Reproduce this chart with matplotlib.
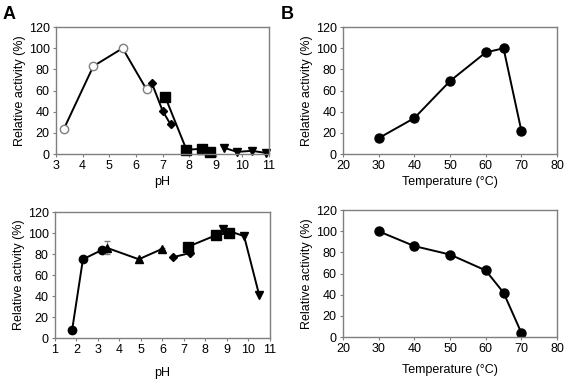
import numpy as np
import matplotlib
matplotlib.use("Agg")
import matplotlib.pyplot as plt

plt.rcParams['font.family'] = ['Liberation Sans', 'DejaVu Sans']

# panel A, top: pH activity, one series per buffer
ph_top = {
    'circle':  ([3.3, 4.4, 5.5, 6.4], [24, 83, 100, 61]),
    'diamond': ([6.6, 7.0, 7.3], [67, 41, 28]),
    'square':  ([7.1, 7.9, 8.5, 8.8], [54, 4, 5, 2]),
    'tri':     ([9.3, 9.8, 10.35, 10.9], [6, 2, 3, 1]),
}
# panel A, bottom: pH stability
ph_bot = {
    'circle':  ([1.8, 2.3, 3.2], [8, 75, 84]),
    'up':      ([3.4, 4.9, 6.0], [86, 75, 85]),
    'diamond': ([6.5, 7.3], [77, 81]),
    'square':  ([7.2, 8.5, 9.1], [87, 98, 100]),
    'tri':     ([8.8, 9.8, 10.5], [104, 97, 41]),
}
ph_bot_err = {'up': [6, 1, 1]}

# panel B: temperature
temp = [30, 40, 50, 60, 65, 70]
temp_act = [15, 34, 69, 96, 100, 22]
temp_stab = [100, 86, 78, 63, 42, 4]
temp_stab_err = [1, 4, 1, 1, 1, 1]

gray = '#7f7f7f'
fs = 9


def style(ax, xticks, xlabel, xpad):
    ax.set_ylim(0, 120)
    ax.set_yticks(range(0, 121, 20))
    ax.set_xlim(xticks[0], xticks[-1])
    ax.set_xticks(xticks)
    for s in ax.spines.values():
        s.set_color(gray)
        s.set_linewidth(1.0)
    ax.tick_params(direction='out', length=2.5, width=0.8, color=gray,
                   labelsize=fs, pad=2)
    ax.set_xlabel(xlabel, fontsize=fs, labelpad=xpad)
    ax.set_ylabel('Relative activity (%)', fontsize=fs, labelpad=2)


markers = {'circle': 'o', 'diamond': 'D', 'square': 's', 'tri': 'v', 'up': '^'}
msize = {'circle': 6, 'diamond': 4.5, 'square': 6.5, 'tri': 5.5, 'up': 6}

fig = plt.figure(figsize=(5.67, 3.80), dpi=100)
ax1 = fig.add_axes([0.0988, 0.5947, 0.3757, 0.334])
ax2 = fig.add_axes([0.605, 0.5947, 0.3774, 0.334])
ax3 = fig.add_axes([0.097, 0.1105, 0.379, 0.3316])
ax4 = fig.add_axes([0.605, 0.113, 0.3774, 0.334])

for k, (x, y) in ph_top.items():
    if k == 'circle':
        ax1.plot(x, y, '-', color='black', lw=1.4, marker='o', ms=6,
                 mfc='white', mec=gray, mew=1.0, clip_on=False)
    else:
        ax1.plot(x, y, '-', color='black', lw=1.4, marker=markers[k],
                 ms=msize[k], mfc='black', mec='black', clip_on=False)
style(ax1, list(range(3, 12)), 'pH', 3)

for k, (x, y) in ph_bot.items():
    if k in ph_bot_err:
        ax3.errorbar(x, y, yerr=ph_bot_err[k], fmt='none', ecolor=gray,
                     elinewidth=0.8, capsize=2)
    ax3.plot(x, y, '-', color='black', lw=1.4, marker=markers[k],
             ms=msize[k], mfc='black', mec='black', clip_on=False)
style(ax3, list(range(1, 12)), 'pH', 8)

ax2.plot(temp, temp_act, '-o', color='black', lw=1.4, ms=6.5)
style(ax2, list(range(20, 81, 10)), 'Temperature (\u00b0C)', 3)

ax4.errorbar(temp, temp_stab, yerr=temp_stab_err, fmt='none', ecolor=gray,
             elinewidth=0.8, capsize=2)
ax4.plot(temp, temp_stab, '-o', color='black', lw=1.4, ms=6.5)
style(ax4, list(range(20, 81, 10)), 'Temperature (\u00b0C)', 6)

fig.text(0.005, 0.985, 'A', fontsize=13, fontweight='bold', va='top')
fig.text(0.495, 0.985, 'B', fontsize=13, fontweight='bold', va='top')

fig.savefig('out.png', dpi=100)
